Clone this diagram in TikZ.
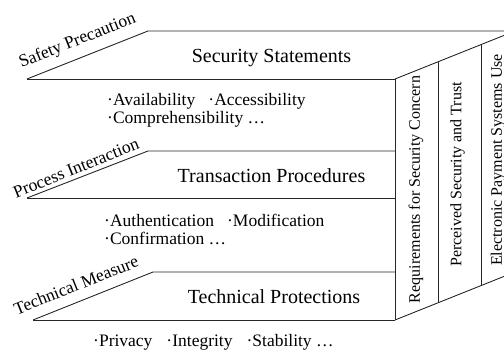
\documentclass[tikz,border=0pt]{standalone}
\usepackage{fontspec}
\setmainfont{Liberation Serif}
\usetikzlibrary{calc}
\begin{document}
\begin{tikzpicture}[x=1pt,y=-1pt,
  edge/.style={draw=black!85, line width=0.9pt},
  title/.style={font=\fontsize{20}{24}\selectfont, anchor=base, inner sep=0pt},
  items/.style={font=\fontsize{17.5}{18}\selectfont, anchor=base west, inner sep=0pt},
  layer/.style={font=\fontsize{17.5}{20}\selectfont, rotate=21.8, inner sep=0pt},
  facet/.style={font=\fontsize{16}{19}\selectfont, rotate=90, inner sep=0pt}]
\useasboundingbox (0,0) rectangle (504,350);

% corner points of the three sheets and the side face
\coordinate (s1) at (27,79);   \coordinate (s1t) at (148,31);
\coordinate (s2) at (27,198);  \coordinate (s2t) at (148,151);
\coordinate (s3) at (33,320);  \coordinate (s3t) at (153,272);
\coordinate (f1) at (395,79);  \coordinate (f2) at (395,151);
\coordinate (f3) at (395,198); \coordinate (f4) at (395,320);
\coordinate (g3) at (395,272);
\coordinate (c1) at (515,31);  \coordinate (c4) at (515,272);
\coordinate (d1t) at ($(f1)!0.358!(c1)$); \coordinate (d1b) at ($(f4)!0.358!(c4)$);
\coordinate (d2t) at ($(f1)!0.717!(c1)$); \coordinate (d2b) at ($(f4)!0.717!(c4)$);

\begin{scope}
  \clip (0,0) rectangle (504,350);
  % top sheet
  \draw[edge] (s1) -- (s1t) -- (c1);
  \draw[edge] (s1) -- (f1);
  % middle sheet
  \draw[edge] (s2) -- (s2t) -- (f2);
  \draw[edge] (s2) -- (f3);
  % bottom sheet
  \draw[edge] (s3) -- (s3t) -- (g3);
  \draw[edge] (s3) -- (f4);
  % side face
  \draw[edge] (f1) -- (c1);
  \draw[edge] (f1) -- (f4);
  \draw[edge] (f4) -- (c4);
  \draw[edge] (d1t) -- (d1b);
  \draw[edge] (d2t) -- (d2b);
\end{scope}

% sheet titles
\node[title] (t1) at (271.5,63) {Security Statements};
\node[title] (t2) at (271.5,183) {Transaction Procedures};
\node[title] (t3) at (274,304) {Technical Protections};

% layer labels along the slanted edges
\node[layer] (l1) at (77.5,41) {Safety Precaution};
\node[layer] (l2) at (76,168) {Process Interaction};
\node[layer] (l3) at (76,285) {Technical Measure};

% item lists
\node[items] (i1a) at (107,106) {·Availability\hspace{0.75em}·Accessibility};
\node[items] (i1b) at (107,124) {·Comprehensibility …};
\node[items] (i2a) at (104,226) {·Authentication\hspace{0.75em}·Modification};
\node[items] (i2b) at (104,244) {·Confirmation …};
\node[items] (i3a) at (93,346) {·Privacy\hspace{0.8em}·Integrity\hspace{0.8em}·Stability …};

% side face labels
\node[facet] (v1) at (416,189.5) {Requirements for Security Concern};
\node[facet] (v2) at (457.5,174.5) {Perceived Security and Trust};
\node[facet] (v3) at (498,160) {Electronic Payment Systems Use};
\end{tikzpicture}
\end{document}
